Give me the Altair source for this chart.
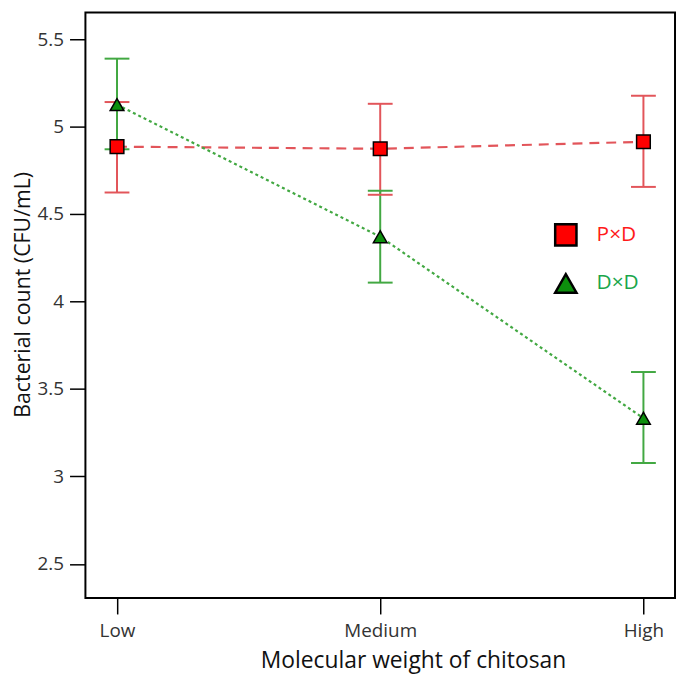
import altair as alt
import pandas as pd

# molecular weight levels on the x axis
levels = ["Low", "Medium", "High"]
series_names = ["P×D", "D×D"]

# bacterial count, log CFU/mL
pxd_mean = [4.885, 4.873, 4.913]
pxd_lower = [4.623, 4.61, 4.655]
pxd_upper = [5.14, 5.13, 5.176]

dxd_mean = [5.125, 4.37, 3.333]
dxd_lower = [4.87, 4.108, 3.077]
dxd_upper = [5.388, 4.633, 3.597]

rows = []
for name, m, lo, hi in [(series_names[0], pxd_mean, pxd_lower, pxd_upper),
                        (series_names[1], dxd_mean, dxd_lower, dxd_upper)]:
    for lev, a, b, c in zip(levels, m, lo, hi):
        rows.append({"level": lev, "series": name, "mean": a, "lower": b, "upper": c})
df = pd.DataFrame(rows)

FONT = "Open Sans"

x = alt.X("level:N", sort=levels,
          scale=alt.Scale(type="point", padding=0.12),
          axis=alt.Axis(title="Molecular weight of chitosan", labelAngle=0,
                        labelFontSize=19, labelColor="#333", labelPadding=8,
                        tickSize=16, tickColor="black", tickWidth=1.5,
                        domain=False, grid=False,
                        titleFontSize=23, titleFontWeight="normal", titleColor="#111",
                        titleX=330, titleY=70, titleAlign="center",
                        titleBaseline="alphabetic"))

y_scale = alt.Scale(domain=[2.305, 5.652], nice=False, zero=False)
y_axis = alt.Axis(title="Bacterial count (CFU/mL)", values=[2.5, 3, 3.5, 4, 4.5, 5, 5.5],
                  format=".1~f", labelFontSize=19, labelColor="#333", labelPadding=6,
                  tickSize=16, tickColor="black", tickWidth=1.5,
                  domain=False, grid=False,
                  titleFontSize=21.5, titleFontWeight="normal", titleColor="#111",
                  titleAngle=270, titleX=-62, titleY=284, titleAlign="center",
                  titleBaseline="middle")

# error bars and connecting lines: domain listed in reverse so that their
# (hidden) legends are not merged with the marker legend
line_domain = series_names[::-1]
stroke_scale = alt.Scale(domain=line_domain, range=["#42a842", "#e2555a"])
dash_scale = alt.Scale(domain=line_domain, range=[[3, 3], [10, 7]])

base = alt.Chart(df)

bars = base.mark_rule(strokeWidth=2).encode(
    x=x,
    y=alt.Y("lower:Q", scale=y_scale, axis=y_axis),
    y2="upper:Q",
    stroke=alt.Stroke("series:N", scale=stroke_scale, legend=None),
)

caps_hi = base.mark_rule(strokeWidth=2, xOffset=-12.5, x2Offset=12.5).encode(
    x=x, x2=alt.X2("level:N"),
    y=alt.Y("upper:Q", scale=y_scale, axis=y_axis),
    stroke=alt.Stroke("series:N", scale=stroke_scale, legend=None),
)

caps_lo = base.mark_rule(strokeWidth=2, xOffset=-12.5, x2Offset=12.5).encode(
    x=x, x2=alt.X2("level:N"),
    y=alt.Y("lower:Q", scale=y_scale, axis=y_axis),
    stroke=alt.Stroke("series:N", scale=stroke_scale, legend=None),
)

lines = base.mark_line(strokeWidth=2.2).encode(
    x=x,
    y=alt.Y("mean:Q", scale=y_scale, axis=y_axis),
    detail="series:N",
    stroke=alt.Stroke("series:N", scale=stroke_scale, legend=None),
    strokeDash=alt.StrokeDash("series:N", scale=dash_scale, legend=None),
)

leg = alt.Legend(title=None, orient="none", legendX=472, legendY=212,
                 symbolSize=460, symbolStrokeColor="black", symbolStrokeWidth=2.5,
                 labelFont=FONT, labelFontSize=21, labelOffset=19, rowPadding=18,
                 padding=0,
                 labelColor={"expr": "datum.index == 0 ? '#ff1a1a' : '#1aa64b'"})

points = base.mark_point(filled=True, stroke="black", strokeWidth=1.5,
                         size=190, opacity=1).encode(
    x=x,
    y=alt.Y("mean:Q", scale=y_scale, axis=y_axis),
    color=alt.Color("series:N", scale=alt.Scale(domain=series_names,
                                                range=["#ff0000", "#0d8f0d"]), legend=leg),
    shape=alt.Shape("series:N", scale=alt.Scale(domain=series_names,
                                                range=["square", "triangle-up"]), legend=leg),
)

chart = alt.layer(bars, caps_hi, caps_lo, lines, points).properties(
    width=594, height=590,
    autosize=alt.AutoSizeParams(type="none"),
    padding={"left": 78, "top": 2, "right": 2, "bottom": 75},
).configure(font=FONT).configure_view(stroke="black", strokeWidth=2)

chart.save("out.html", embed_options={"renderer": "svg", "actions": False})
